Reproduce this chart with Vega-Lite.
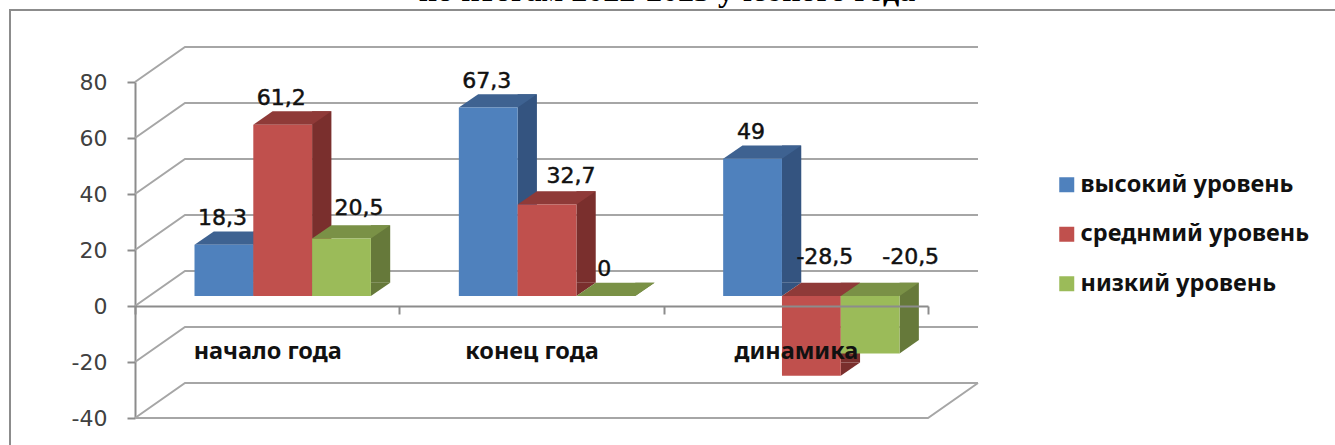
{
"$schema":"https://vega.github.io/schema/vega-lite/v6.json",
"autosize":"none",
"width":793,"height":336,
"padding":{"left":135,"top":82,"right":407,"bottom":27},
"background":"white",
"view":{"stroke":null},
"config":{
 "axisY":{"title":null,"grid":false,"tickSize":8,"tickColor":"#8c8c8c","tickWidth":2,"domainColor":"#8c8c8c","domainWidth":2,"labelFont":"DejaVu Sans","labelFontSize":22,"labelColor":"#404040","labelPadding":20},
 "axisX":{"title":null,"grid":false,"labelAngle":0,"tickSize":8,"tickColor":"#8c8c8c","tickWidth":2,"domainColor":"#8c8c8c","domainWidth":2,"labelFont":"Noto Sans","labelFontSize":23.5,"labelFontWeight":"bold","labelColor":"#111111","labelPadding":37,"labelBaseline":"middle"}
},
"data":{"values":[
{"group":"начало года","series":"высокий уровень","value":18.3,"label":"18,3"},
{"group":"начало года","series":"среднмий уровень","value":61.2,"label":"61,2"},
{"group":"начало года","series":"низкий уровень","value":20.5,"label":"20,5"},
{"group":"конец года","series":"высокий уровень","value":67.3,"label":"67,3"},
{"group":"конец года","series":"среднмий уровень","value":32.7,"label":"32,7"},
{"group":"конец года","series":"низкий уровень","value":0,"label":"0"},
{"group":"динамика","series":"высокий уровень","value":49,"label":"49"},
{"group":"динамика","series":"среднмий уровень","value":-28.5,"label":"-28,5"},
{"group":"динамика","series":"низкий уровень","value":-20.5,"label":"-20,5"}
]},
"layer":[
{"data":{"values":[{"tick":80},{"tick":60},{"tick":40},{"tick":20},{"tick":0},{"tick":-20},{"tick":-40}]},
 "mark":{"type":"point","shape":"M-396.5 0 L-346.5 -35 L446.5 -35","size":4,"filled":false,"stroke":"#a6a6a6","strokeWidth":2,"opacity":1},
 "encoding":{"y":{"field":"tick","type":"quantitative","scale":{"domain":[-40,80],"nice":false,"zero":false},"axis":{"values":[80,60,40,20,0,-20,-40],"labelExpr":"''+datum.value"}}}},
{"data":{"values":[{"tick":-40}]},
 "mark":{"type":"point","shape":"M-396.5 0 L396.5 0 L446.5 -35","size":4,"filled":false,"stroke":"#a6a6a6","strokeWidth":2,"opacity":1},
 "encoding":{"y":{"field":"tick","type":"quantitative"}}},
{"data":{"values":[{"tick":80}]},
 "mark":{"type":"point","shape":"M-521.5 400 L-521.5 -72 L 810 -72","size":4,"filled":false,"stroke":"#8c8c8c","strokeWidth":2,"opacity":1},
 "encoding":{"y":{"field":"tick","type":"quantitative"}}},
{"data":{"values":[{"tick":80,"heading":"по итогам 2022-2023 учебного года"}]},
 "mark":{"type":"text","font":"Liberation Serif","fontSize":32,"fontWeight":"bold","color":"#000000","align":"center","baseline":"alphabetic","dx":135.5,"dy":-81},
 "encoding":{"y":{"field":"tick","type":"quantitative"},"text":{"field":"heading","type":"nominal"}}},
{"encoding":{
  "x":{"field":"group","type":"nominal","scale":{"domain":["начало года","конец года","динамика"],"paddingInner":0,"paddingOuter":0},
    "axis":{"orient":"bottom","offset":-112,"tickBand":"extent","zindex":1}},
  "xOffset":{"field":"series","type":"nominal","scale":{"type":"band","domain":["высокий уровень","среднмий уровень","низкий уровень"],"range":[59.5,235.9],"paddingInner":0,"paddingOuter":0}}
 },
 "resolve":{"scale":{"color":"independent","xOffset":"independent"}},
 "layer":[
 {"mark":{"type":"bar","yOffset":-23.3,"y2Offset":-23.3},
  "encoding":{
   "xOffset":{"field":"series","type":"nominal","scale":{"type":"band","domain":["высокий уровень","среднмий уровень","низкий уровень"],"range":[118.3,255.2],"paddingInner":0.6718,"paddingOuter":0}},
   "y":{"field":"value","type":"quantitative"},"y2":{"datum":0},
   "color":{"field":"series","type":"nominal","legend":null,"scale":{"domain":["высокий уровень","среднмий уровень","низкий уровень"],"range":["#345480","#7a2f2d","#66793a"]}}}},
 {"transform":[{"filter":"datum.value>=0"}],
  "mark":{"type":"point","shape":"M29.4 0 L29.4 -13.3 L48.7 -13.3 Z","size":4,"filled":true,"opacity":1,"yOffset":-10},
  "encoding":{"y":{"datum":0},
   "color":{"field":"series","type":"nominal","legend":null,"scale":{"domain":["высокий уровень","среднмий уровень","низкий уровень"],"range":["#345480","#7a2f2d","#66793a"]}}}},
 {"transform":[{"filter":"datum.value<0"}],
  "mark":{"type":"point","shape":"M29.4 0 L29.4 -13.3 L48.7 -13.3 Z","size":4,"filled":true,"opacity":1,"yOffset":-10},
  "encoding":{"y":{"field":"value","type":"quantitative"},
   "color":{"field":"series","type":"nominal","legend":null,"scale":{"domain":["высокий уровень","среднмий уровень","низкий уровень"],"range":["#345480","#7a2f2d","#66793a"]}}}},
 {"transform":[{"filter":"datum.value>=0"}],
  "mark":{"type":"point","shape":"M-29.4 0 L29.4 0 L48.7 -13.3 L-10.1 -13.3 Z","size":4,"filled":true,"opacity":1,"yOffset":-10},
  "encoding":{"y":{"field":"value","type":"quantitative"},
   "color":{"field":"series","type":"nominal","legend":null,"scale":{"domain":["высокий уровень","среднмий уровень","низкий уровень"],"range":["#3e6291","#8f3a38","#7a9146"]}}}},
 {"transform":[{"filter":"datum.value<0"}],
  "mark":{"type":"point","shape":"M-29.4 0 L29.4 0 L48.7 -13.3 L-10.1 -13.3 Z","size":4,"filled":true,"opacity":1,"yOffset":-10},
  "encoding":{"y":{"datum":0},
   "color":{"field":"series","type":"nominal","legend":null,"scale":{"domain":["высокий уровень","среднмий уровень","низкий уровень"],"range":["#3e6291","#8f3a38","#7a9146"]}}}},
 {"mark":{"type":"bar","yOffset":-10,"y2Offset":-10},
  "encoding":{"y":{"field":"value","type":"quantitative"},
   "y2":{"datum":0},
   "color":{"field":"series","type":"nominal","scale":{"domain":["высокий уровень","среднмий уровень","низкий уровень"],"range":["#4f81bd","#c0504d","#9bbb59"]},
     "legend":{"title":null,"orient":"none","legendX":920,"legendY":91,"symbolType":"square","symbolSize":225,"symbolStrokeWidth":0,"symbolOpacity":1,"labelFont":"Noto Sans","labelFontSize":23.5,"labelFontWeight":"bold","labelColor":"#111111","labelOffset":2,"rowPadding":24.5,"labelLimit":400}}}},
 {"transform":[{"filter":"indexof(['18,3','61,2','67,3','0','49'],datum.label)>=0"}],
  "mark":{"type":"text","font":"DejaVu Sans","fontSize":22,"color":"#111111","stroke":"#111111","strokeWidth":0.5,"baseline":"middle","dx":-1.5,"dy":-37},
  "encoding":{"y":{"field":"value","type":"quantitative"},"text":{"field":"label","type":"nominal"}}},
 {"transform":[{"filter":"datum.label=='20,5'"}],
  "mark":{"type":"text","font":"DejaVu Sans","fontSize":22,"color":"#111111","stroke":"#111111","strokeWidth":0.5,"baseline":"middle","dx":17.5,"dy":-40.6},
  "encoding":{"y":{"field":"value","type":"quantitative"},"text":{"field":"label","type":"nominal"}}},
 {"transform":[{"filter":"datum.label=='32,7'"}],
  "mark":{"type":"text","font":"DejaVu Sans","fontSize":22,"color":"#111111","stroke":"#111111","strokeWidth":0.5,"baseline":"middle","dx":24,"dy":-38.4},
  "encoding":{"y":{"field":"value","type":"quantitative"},"text":{"field":"label","type":"nominal"}}},
 {"transform":[{"filter":"datum.label=='-28,5'"}],
  "mark":{"type":"text","font":"DejaVu Sans","fontSize":22,"color":"#111111","stroke":"#111111","strokeWidth":0.5,"baseline":"middle","dx":13.5,"dy":-49},
  "encoding":{"y":{"datum":0},"text":{"field":"label","type":"nominal"}}},
 {"transform":[{"filter":"datum.label=='-20,5'"}],
  "mark":{"type":"text","font":"DejaVu Sans","fontSize":22,"color":"#111111","stroke":"#111111","strokeWidth":0.5,"baseline":"middle","dx":40.5,"dy":-49},
  "encoding":{"y":{"datum":0},"text":{"field":"label","type":"nominal"}}}
 ]}
]
}
